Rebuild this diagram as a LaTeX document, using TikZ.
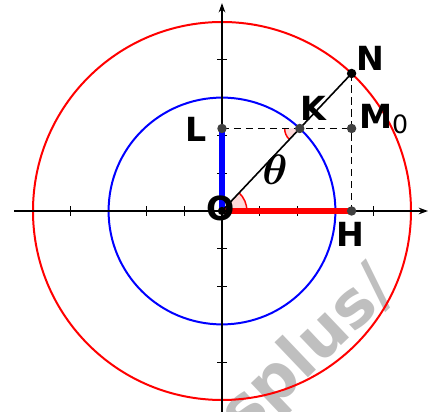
\RequirePackage{fix-cm}
\documentclass[tikz,border=0pt]{standalone}
\usepackage{fontspec}
\setmainfont{DejaVu Sans}
\usepackage{amsmath}
\usetikzlibrary{arrows.meta,calc}
\begin{document}
\begin{tikzpicture}[
  axis/.style={line width=1.3pt, -{Stealth[length=7pt,width=5pt]}},
  tickln/.style={line width=1pt},
  dot/.style={circle, fill=black!75, inner sep=0pt, minimum size=0.25cm},
  lbl/.style={font=\fontsize{25}{25}\bfseries\selectfont, inner sep=0pt},
  dashln/.style={line width=1.3pt, dash pattern=on 5.5pt off 3.5pt},
  wm/.style={font=\fontsize{48}{48}\bfseries\selectfont, text=black!25, inner sep=0pt}
]
\useasboundingbox (-5.873,-5.317) rectangle (5.794,5.582);
\clip (-5.873,-5.317) rectangle (5.794,5.582);
% watermark
\node[wm, rotate=43.6, anchor=base east] (wmk) at (4.66,-2.15) {splus/};
% points
\coordinate (O) at (0,0);
\coordinate (N) at (46.7:5);
\coordinate (K) at (46.7:3);
\coordinate (L) at (0,{3*sin(46.7)});
\coordinate (M) at ({5*cos(46.7)},{3*sin(46.7)});
\coordinate (H) at ({5*cos(46.7)},0);
% circles
\draw[red, line width=1.5pt] (O) circle (5);
\draw[blue, line width=1.5pt] (O) circle (3);
% axes
\coordinate (xa) at (-5.5,0);
\coordinate (xb) at (5.45,0);
\coordinate (ya) at (0,-5.4);
\coordinate (yb) at (0,5.5);
\draw[axis] (xa) -- (xb);
\draw[axis] (ya) -- (yb);
\foreach \t in {-4,-2,-1,1,2,4}{
  \draw[tickln] (\t,-0.13) -- (\t,0.13);
  \draw[tickln] (-0.13,\t) -- (0.13,\t);
}
% angle marks
\fill[red!15] (O) -- (0.66,0) arc (0:46.7:0.66) -- cycle;
\draw[red, line width=1.1pt] (0.66,0) arc (0:46.7:0.66);
\fill[red!15] (K) -- ++(180:0.4) arc (180:226.7:0.4) -- cycle;
\draw[red, line width=1.1pt] ($(K)+(180:0.4)$) arc (180:226.7:0.4);
% dashed
\draw[dashln] (L) -- (M);
\draw[dashln] (N) -- (H);
% thick segments
\draw[red, line width=4.5pt] (O) -- (H);
\draw[blue, line width=4.5pt] (O) -- (L);
% ON
\draw[line width=1.2pt] (O) -- (N);
% dots
\node[dot] (dL) at (L) {};
\node[dot] (dK) at (K) {};
\node[dot] (dM) at (M) {};
\node[dot] (dH) at (H) {};
\node[dot, fill=black] (dN) at (N) {};
\node[dot, fill=black, minimum size=0.22cm] (dO) at (O) {};
% labels
\node[lbl] (tN) at (3.92,4.05) {N};
\node[lbl] (tK) at (2.43,2.72) {K};
\node[lbl, anchor=base west] (tM) at (3.62,2.185) {M\raisebox{-3.8pt}{\fontsize{19}{19}\mdseries\selectfont 0}};
\node[lbl] (tL) at (-0.69,2.17) {L};
\node[lbl] (tO) at (-0.03,0.08) {O};
\node[lbl] (tH) at (3.39,-0.63) {H};
\node[inner sep=0pt] (tth) at (1.40,1.08) {\fontsize{32}{32}\selectfont$\boldsymbol{\theta}$};
\end{tikzpicture}
\end{document}
